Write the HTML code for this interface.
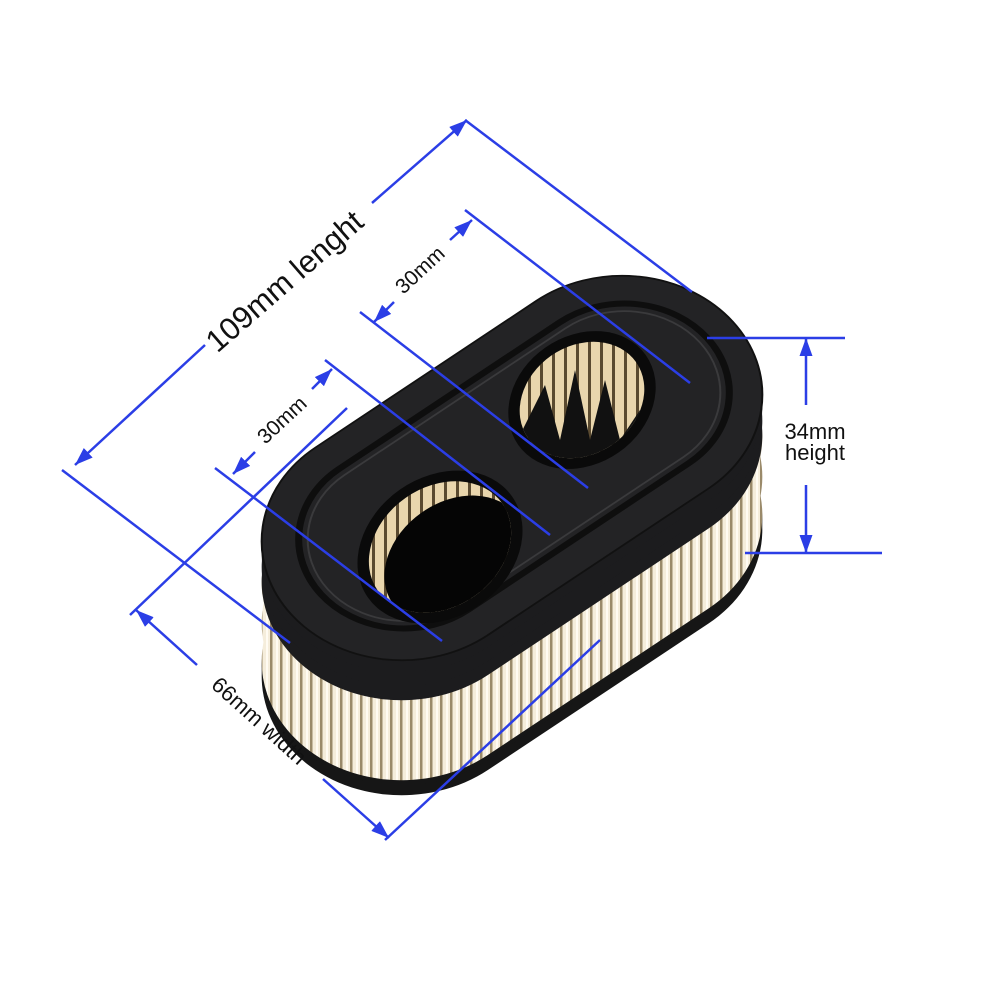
<!DOCTYPE html>
<html><head><meta charset="utf-8"><style>html,body{margin:0;padding:0;background:#fff}svg{display:block}</style></head>
<body>
<svg width="1000" height="1000" viewBox="0 0 1000 1000" xmlns="http://www.w3.org/2000/svg">
<defs>
<pattern id="pl" width="10" height="40" patternUnits="userSpaceOnUse">
<rect width="10" height="40" fill="#f5eddb"/>
<rect x="0" width="2.5" height="40" fill="#9a8a6a"/>
<rect x="6" width="2" height="40" fill="#fffbf2"/>
</pattern>
<pattern id="pl2" width="12" height="40" patternUnits="userSpaceOnUse">
<rect width="12" height="40" fill="#e9d6ad"/>
<rect width="3" height="40" fill="#5a4a30"/>
</pattern>
<marker id="ar" viewBox="0 0 10 10" refX="10" refY="5" markerWidth="18" markerHeight="13" orient="auto-start-reverse" markerUnits="userSpaceOnUse" preserveAspectRatio="none">
<path d="M0,0 L10,5 L0,10 z" fill="#2b3ee6"/>
</marker>
<rect id="face" x="-280" y="-140" width="560" height="280" rx="140"/>
<clipPath id="body">
<use href="#face" transform="translate(512,588) scale(1,0.85) rotate(-38)"/>
<use href="#face" transform="translate(512,550) scale(1,0.85) rotate(-38)"/>
<use href="#face" transform="translate(512,510) scale(1,0.85) rotate(-38)"/>
</clipPath>
<clipPath id="h1"><ellipse rx="66" ry="54" transform="translate(582,400) rotate(-35)"/></clipPath>
<clipPath id="h2"><ellipse rx="76" ry="60" transform="translate(440,547) rotate(-35)"/></clipPath>
</defs>

<!-- bottom rim -->
<g fill="#161616">
<use href="#face" transform="translate(512,603) scale(1,0.85) rotate(-38)"/>
<use href="#face" transform="translate(512,593) scale(1,0.85) rotate(-38)"/>
</g>
<!-- pleats -->
<g clip-path="url(#body)"><rect x="200" y="250" width="600" height="600" fill="url(#pl)"/></g>
<!-- lid side -->
<g fill="#1c1c1e">
<use href="#face" transform="translate(512,508) scale(1,0.85) rotate(-38)"/>
<use href="#face" transform="translate(512,494) scale(1,0.85) rotate(-38)"/>
<use href="#face" transform="translate(512,480) scale(1,0.85) rotate(-38)"/>
</g>
<!-- top face -->
<use href="#face" transform="translate(512,468) scale(1,0.85) rotate(-38)" fill="#232325" stroke="#111" stroke-width="2"/>
<g transform="translate(514,466) scale(1,0.85) rotate(-38)">
<rect x="-245" y="-105" width="490" height="210" rx="105" fill="none" stroke="#0e0e0e" stroke-width="7"/>
<rect x="-236" y="-96" width="472" height="192" rx="96" fill="none" stroke="#3a3a3c" stroke-width="2"/>
</g>
<!-- holes -->
<ellipse rx="78" ry="64" fill="#0a0a0a" transform="translate(582,400) rotate(-35)"/>
<g clip-path="url(#h1)">
<rect x="500" y="330" width="170" height="150" fill="url(#pl2)"/>
<path d="M515,445 L545,385 L560,440 L575,370 L590,440 L605,380 L620,440 L640,410 L665,470 L515,470 z" fill="#111"/>
</g>
<ellipse rx="88" ry="70" fill="#0a0a0a" transform="translate(440,547) rotate(-35)"/>
<g clip-path="url(#h2)">
<rect x="350" y="480" width="180" height="140" fill="url(#pl2)"/>
<ellipse rx="76" ry="58" fill="#050505" transform="translate(455,560) rotate(-35)"/>
</g>

<!-- dimension lines -->
<g stroke="#2b3ee6" stroke-width="2.5" fill="none">
<line x1="465" y1="120" x2="692" y2="292"/>
<line x1="62" y1="470" x2="290" y2="643"/>
<line x1="75" y1="465" x2="205" y2="345" marker-start="url(#ar)"/>
<line x1="372" y1="203" x2="467" y2="120" marker-end="url(#ar)"/>

<line x1="465" y1="210" x2="690" y2="383"/>
<line x1="360" y1="312" x2="588" y2="488"/>
<line x1="374" y1="322" x2="394" y2="302" marker-start="url(#ar)"/>
<line x1="450" y1="240" x2="472" y2="220" marker-end="url(#ar)"/>

<line x1="325" y1="360" x2="550" y2="535"/>
<line x1="215" y1="468" x2="442" y2="641"/>
<line x1="233" y1="474" x2="255" y2="452" marker-start="url(#ar)"/>
<line x1="312" y1="389" x2="332" y2="369" marker-end="url(#ar)"/>

<line x1="347" y1="408" x2="130" y2="615"/>
<line x1="600" y1="640" x2="385" y2="840"/>
<line x1="136" y1="610" x2="197" y2="665" marker-start="url(#ar)"/>
<line x1="323" y1="779" x2="389" y2="838" marker-end="url(#ar)"/>

<line x1="707" y1="338" x2="845" y2="338"/>
<line x1="745" y1="553" x2="882" y2="553"/>
<line x1="806" y1="338" x2="806" y2="405" marker-start="url(#ar)"/>
<line x1="806" y1="485" x2="806" y2="553" marker-end="url(#ar)"/>
</g>

<g font-family="Liberation Sans, DejaVu Sans, sans-serif" fill="#111">
<text x="286" y="283" font-size="31" text-anchor="middle" dominant-baseline="middle" transform="rotate(-41 286 283)">109mm lenght</text>
<text x="421" y="271" font-size="21" text-anchor="middle" dominant-baseline="middle" transform="rotate(-43 421 271)">30mm</text>
<text x="283" y="421" font-size="21" text-anchor="middle" dominant-baseline="middle" transform="rotate(-43 283 421)">30mm</text>
<text x="258" y="722" font-size="22" text-anchor="middle" dominant-baseline="middle" transform="rotate(42 258 722)">66mm width</text>
<text x="815" y="439" font-size="22" text-anchor="middle">34mm</text>
<text x="815" y="460" font-size="22" text-anchor="middle">height</text>
</g>
</svg>
</body></html>
